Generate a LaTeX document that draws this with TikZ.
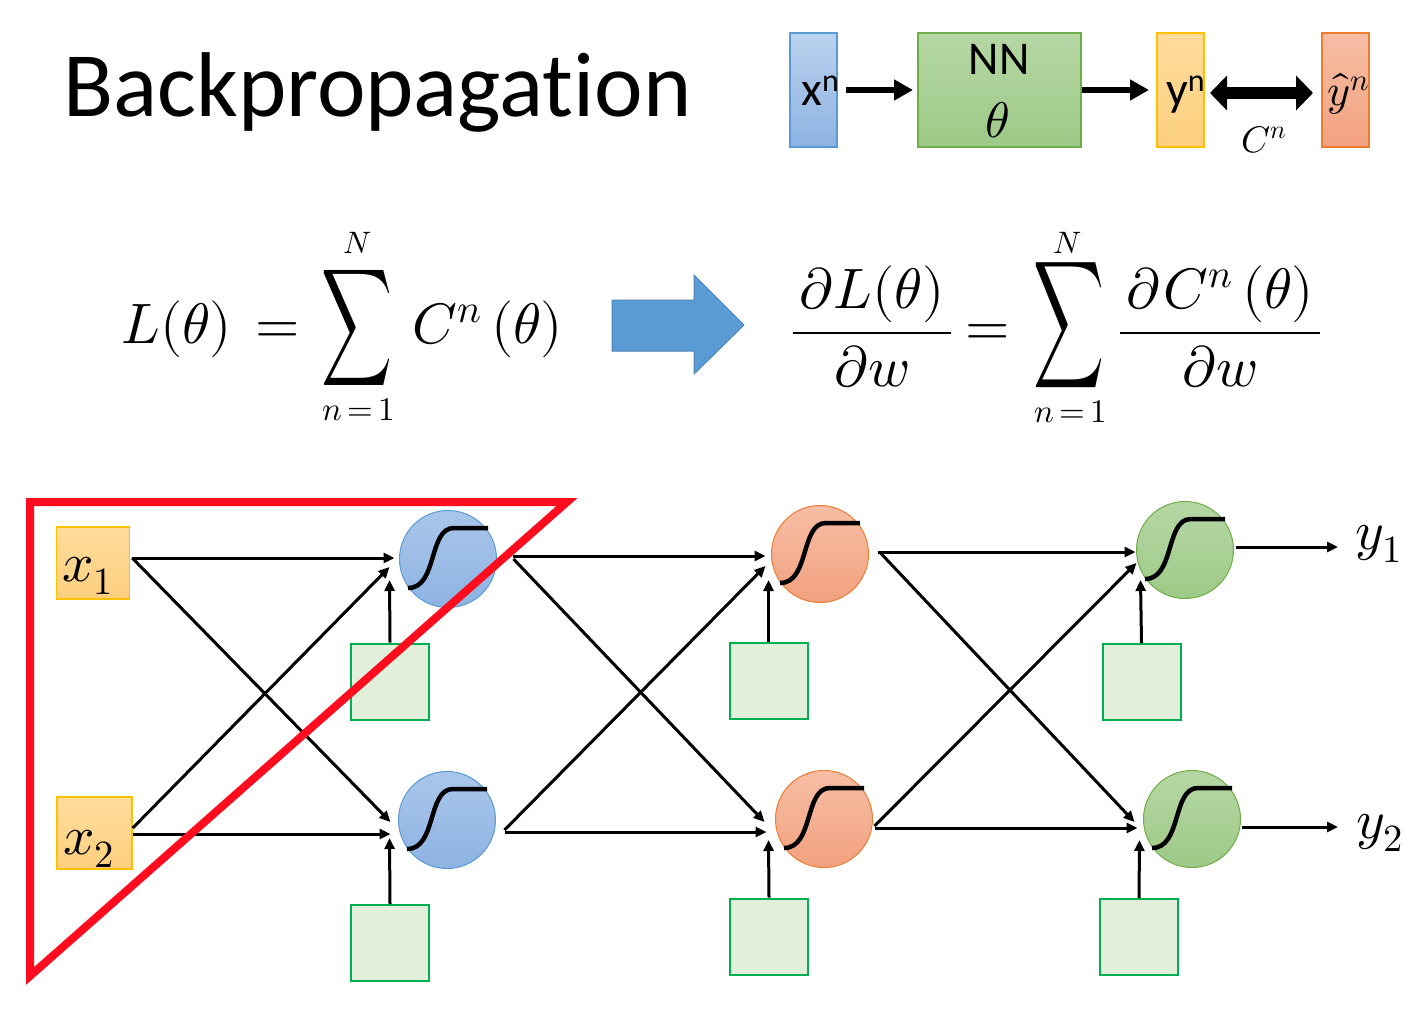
\documentclass[tikz,border=0pt]{standalone}
\usepackage{fontspec}
\usepackage{unicode-math}
\setmathfont{Latin Modern Math}
\usepackage{graphicx}
\newfontfamily\carl{Carlito}[Ligatures=NoCommon]
\usetikzlibrary{arrows.meta,calc}
\definecolor{blueA}{HTML}{A9C6EA}
\definecolor{blueB}{HTML}{8DB3E2}
\definecolor{bluebd}{HTML}{5B9BD5}
\definecolor{orA}{HTML}{F6BEA5}
\definecolor{orB}{HTML}{F2A17F}
\definecolor{orbd}{HTML}{ED7D31}
\definecolor{grA}{HTML}{B6D7A5}
\definecolor{grB}{HTML}{9DC987}
\definecolor{grbd}{HTML}{70AD47}
\definecolor{inA}{HTML}{FFDC9C}
\definecolor{inB}{HTML}{FDCF7E}
\definecolor{inbd}{HTML}{FFC000}
\definecolor{biasfill}{HTML}{E2EFDA}
\definecolor{biasbd}{HTML}{00B050}
\definecolor{arrowblue}{HTML}{5B9BD5}
\definecolor{redline}{HTML}{FF0D1F}
\tikzset{
  neuron/.style={circle, minimum size=97pt, inner sep=0pt, line width=1pt},
  nblue/.style={neuron, draw=bluebd, top color=blueA, bottom color=blueB},
  norange/.style={neuron, draw=orbd, top color=orA, bottom color=orB},
  ngreen/.style={neuron, draw=grbd, top color=grA, bottom color=grB},
  biasbox/.style={rectangle, minimum width=78pt, minimum height=76pt, inner sep=0pt, fill=biasfill, draw=biasbd, line width=2pt},
  inbox/.style={rectangle, minimum width=73pt, minimum height=72pt, inner sep=0pt, top color=inA, bottom color=inB, draw=inbd, line width=1.5pt},
  conn/.style={line width=3pt, -{Triangle[length=11pt,width=10pt]}},
  sigline/.style={line width=4.5pt},
  topbox/.style={rectangle, minimum width=47pt, minimum height=114pt, inner sep=0pt, line width=2pt},
  toparrow/.style={line width=6pt, -{Triangle[length=19pt,width=20pt]}},
  bigmath/.style={inner sep=0pt, font=\fontsize{57}{60}\selectfont},
  limmath/.style={inner sep=0pt, font=\fontsize{31}{33}\selectfont},
  labmath/.style={inner sep=0pt, font=\fontsize{55}{57}\selectfont},
  sanslab/.style={inner sep=0pt, font=\carl\fontsize{48}{50}\selectfont},
}
\newcommand\sigmo[1]{\draw[sigline] ($(#1)+(-40,29)$) .. controls ($(#1)+(-10,29)$) and ($(#1)+(-20,-31)$) .. ($(#1)+(6,-31)$) -- ($(#1)+(40,-31)$);}
\begin{document}
\begin{tikzpicture}[x=1pt,y=-1pt]
\useasboundingbox[fill=white] (0,0) rectangle (1420,1014);

% ---------- title ----------
\node[anchor=base west, inner sep=0pt, font=\carl\fontsize{92}{100}\selectfont] (title) at (63,117) {Backpropagation};

% ---------- top pipeline ----------
\node[topbox, draw=bluebd, top color=blueA!80!white, bottom color=blueB] (xn) at (813.5,90) {};
\node[topbox, minimum width=163pt, draw=grbd, top color=grA, bottom color=grB] (nn) at (999.5,90) {};
\node[topbox, draw=inbd, top color=inA, bottom color=inB] (yn) at (1180.5,90) {};
\node[topbox, draw=orbd, top color=orA, bottom color=orB] (yh) at (1345.5,90) {};

\node[sanslab, anchor=base west] (xnt) at (801,106) {x\raisebox{14pt}{\fontsize{32}{32}\selectfont n}};
\node[inner sep=0pt, anchor=base, font=\carl\fontsize{47}{50}\selectfont] (nnt) at (999,75) {NN};
\node[inner sep=0pt, anchor=base, font=\fontsize{50}{52}\selectfont] (tht) at (998,137) {$\theta$};
\node[sanslab, anchor=base west] (ynt) at (1166,106) {y\raisebox{14pt}{\fontsize{32}{32}\selectfont n}};
\node[inner sep=0pt, anchor=base west, font=\fontsize{44}{46}\selectfont] (yht) at (1327,106) {$\hat{y}^{n}$};
\node[inner sep=0pt, anchor=base west, font=\fontsize{37}{40}\selectfont] (cnt) at (1241,152) {$C^{n}$};

\draw[toparrow, shorten <=8pt, shorten >=4pt] (xn.east) -- (nn.west);
\draw[toparrow, shorten >=7pt] (nn.east) -- (yn.west);
\draw[line width=12pt, {Triangle[length=17pt,width=34pt]}-{Triangle[length=17pt,width=34pt]}, shorten <=5pt, shorten >=8pt]
  ([shift={(0,3)}]yn.east) -- ([shift={(0,3)}]yh.west);

% ---------- formulas ----------
\node[bigmath, anchor=base west] (Lt) at (121,343) {$L(\theta)$};
\node[bigmath, anchor=base west] (eq1) at (255,343) {$=$};
\node[inner sep=0pt] (sum1) at (357.5,327.5) {\resizebox*{71pt}{115pt}{$\displaystyle\sum$}};
\node[limmath, anchor=base] (N1) at (358,253) {$N$};
\node[limmath, anchor=base, font=\fontsize{33}{35}\selectfont] (n1) at (359,420) {$n{\,=\,}1$};
\node[bigmath, anchor=base west] (Ct) at (412,343) {$C^{n}\mkern3mu(\theta)$};

\fill[arrowblue, draw=arrowblue!85!black, line width=1pt] (612,300) -- (694,300) -- (694,275) -- (744,325) -- (694,374) -- (694,351) -- (612,351) -- cycle;

\node[bigmath, anchor=base] (fr1) at (872,347) {$\displaystyle\frac{\mkern2mu\partial L(\theta)\mkern2mu}{\partial w}$};
\node[bigmath, anchor=base] (eq2) at (988,345) {$=$};
\node[inner sep=0pt] (sum2) at (1068.5,325.5) {\resizebox*{71pt}{125pt}{$\displaystyle\sum$}};
\node[limmath, anchor=base] (N2) at (1068,253) {$N$};
\node[limmath, anchor=base, font=\fontsize{33}{35}\selectfont] (n2) at (1071,422) {$n{\,=\,}1$};
\node[bigmath, anchor=base] (fr2) at (1220,347) {$\displaystyle\frac{\mkern2mu\partial\mkern1mu C^{n}\mkern3mu(\theta)\mkern2mu}{\partial w}$};

% ---------- network ----------
\node[inbox] (x1) at (93,563) {};
\node[inbox, minimum width=75pt] (x2) at (94.5,833) {};
\node[labmath, anchor=base west] (x1t) at (62,581) {$x_1$};
\node[labmath, anchor=base west] (x2t) at (63,854) {$x_2$};

\node[nblue] (h1) at (448,559) {};
\node[nblue] (h2) at (447,820) {};
\node[norange] (o1) at (820,554) {};
\node[norange] (o2) at (824,819) {};
\node[ngreen] (g1) at (1185,550) {};
\node[ngreen] (g2) at (1192,819) {};

\sigmo{h1} \sigmo{h2} \sigmo{o1} \sigmo{o2} \sigmo{g1} \sigmo{g2}

\node[biasbox] (bh1) at (390,681.5) {};
\node[biasbox] (bh2) at (390,943) {};
\node[biasbox] (bo1) at (768.5,681) {};
\node[biasbox] (bo2) at (769,936.5) {};
\node[biasbox] (bg1) at (1141.5,682) {};
\node[biasbox] (bg2) at (1139,937) {};

% input layer -> hidden 1
\draw[conn] ([shift={(2,-5)}]x1.east) -- ([shift={(-4.5,-1)}]h1.west);
\draw[conn] ([shift={(2,-5)}]x1.east) -- ([shift={(-7.5,2)}]h2.west);
\draw[conn] ([shift={(0,-5)}]x2.east) -- ([shift={(-9.5,8)}]h1.west);
\draw[conn] ([shift={(0,1)}]x2.east) -- ([shift={(-7.5,14)}]h2.west);
\draw[conn] (bh1.north) -- ([shift={(-9.5,21)}]h1.west);
\draw[conn] (bh2.north) -- ([shift={(-8.5,18)}]h2.west);

% hidden 1 -> hidden 2
\draw[conn] ([shift={(15.5,-3)}]h1.east) -- ([shift={(-5.5,2)}]o1.west);
\draw[conn] ([shift={(16.5,0)}]h1.east) -- ([shift={(-10.5,3)}]o2.west);
\draw[conn] ([shift={(8.5,12)}]h2.east) -- ([shift={(-8.5,13)}]o2.west);
\draw[conn] ([shift={(8.5,10)}]h2.east) -- ([shift={(-5.5,12)}]o1.west);
\draw[conn] (bo1.north) -- ([shift={(-2.5,26)}]o1.west);
\draw[conn] (bo2.north) -- ([shift={(-6.5,21)}]o2.west);

% hidden 2 -> output
\draw[conn] ([shift={(8.5,-2)}]o1.east) -- ([shift={(-0.5,2)}]g1.west);
\draw[conn] ([shift={(11.5,-1)}]o1.east) -- ([shift={(-8.5,3)}]g2.west);
\draw[conn] ([shift={(1.5,9)}]o2.east) -- ([shift={(-5.5,9)}]g2.west);
\draw[conn] ([shift={(1.5,7)}]o2.east) -- ([shift={(0.5,13)}]g1.west);
\draw[conn] (bg1.north) -- ([shift={(4.5,30)}]g1.west);
\draw[conn] (bg2.north) -- ([shift={(-3.5,21)}]g2.west);

% outputs
\coordinate (y1end) at (1338,547);
\coordinate (y2end) at (1338,827);
\draw[conn] ([shift={(1.5,-3)}]g1.east) -- (y1end);
\draw[conn] ([shift={(0.5,8)}]g2.east) -- (y2end);
\node[labmath, anchor=base west] (y1t) at (1355,549) {$y_1$};
\node[labmath, anchor=base west] (y2t) at (1356,838) {$y_2$};

% red triangle
\draw[redline, line width=8pt, line join=miter] (30,502) -- (567,502) -- (30,976) -- cycle;
\end{tikzpicture}
\end{document}
